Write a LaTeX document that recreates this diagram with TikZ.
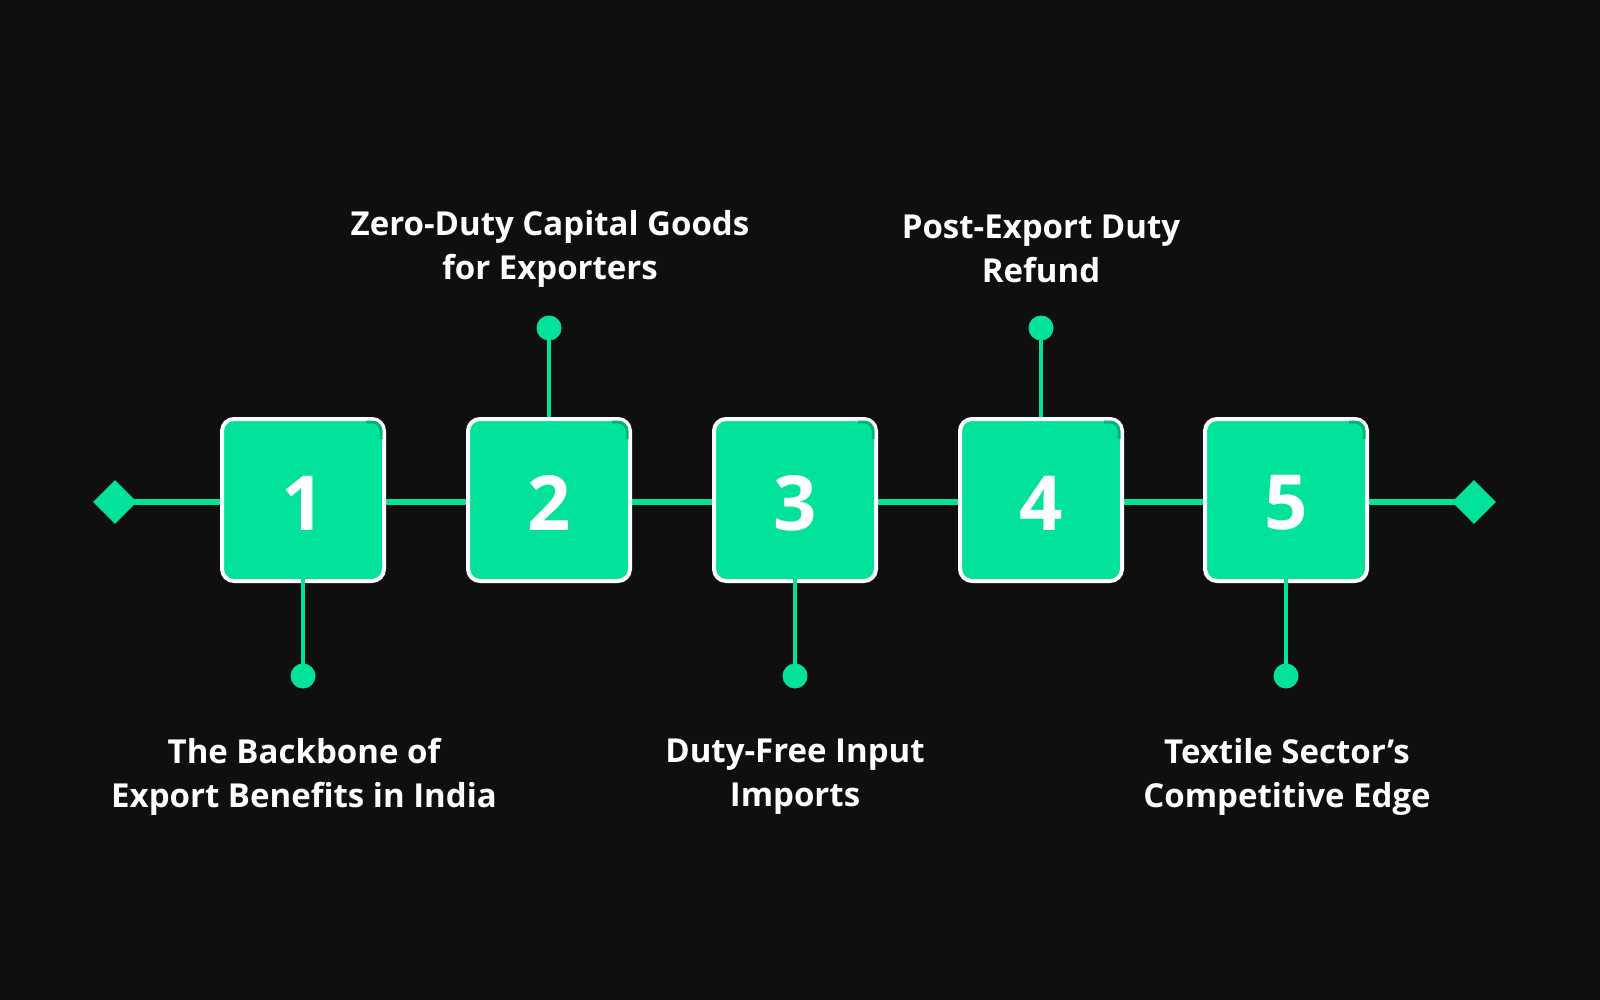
\documentclass[tikz,border=0pt]{standalone}
\usepackage{fontspec}
\setmainfont{Open Sans}
\usetikzlibrary{shapes.geometric}
\definecolor{bg}{HTML}{0F0F0F}
\definecolor{grn}{HTML}{02E29B}
\definecolor{dgrn}{HTML}{01B47B}
\begin{document}
\begin{tikzpicture}[x=1pt,y=-1pt,
  box/.style={draw=white,line width=4pt,fill=grn,rounded corners=12pt,minimum width=162pt,minimum height=162pt,inner sep=0pt},
  gline/.style={draw=grn,line width=6pt},
  dot/.style={circle,fill=grn,minimum size=25pt,inner sep=0pt},
  dia/.style={diamond,fill=grn,minimum size=44pt,inner sep=0pt},
  num/.style={text=white,font=\fontsize{76}{76}\selectfont\bfseries},
  lbl/.style={text=white,align=center,font=\fontsize{33}{44}\selectfont\bfseries}]
\fill[bg] (0,0) rectangle (1600,1000);
\useasboundingbox (0,0) rectangle (1600,1000);
\node[dia] (dl) at (115,502) {};
\node[dia] (dr) at (1474,502) {};
\draw[gline] (dl.center) -- (dr.center);
\foreach \i/\x in {1/303,2/549,3/795,4/1041,5/1286}{
  \node[box] (b\i) at (\x,500) {};
  \draw[dgrn,line width=3pt,rounded corners=9pt] ([xshift=-20pt,yshift=-5pt]b\i.north east) -- ([xshift=-5pt,yshift=-5pt]b\i.north east) -- ([xshift=-5pt,yshift=-22pt]b\i.north east);
  \node[num] (n\i) at (\x,503) {\i};
}
\node[dot] (t2) at (549,328) {};
\node[dot] (t4) at (1041,328) {};
\draw[gline,line width=4pt] (t2.center) -- (b2.north);
\draw[gline,line width=4pt] (t4.center) -- (b4.north);
\node[dot] (d1) at (303,676) {};
\node[dot] (d3) at (795,676) {};
\node[dot] (d5) at (1286,676) {};
\foreach \i in {1,3,5}{\draw[gline,line width=4pt] ([yshift=8pt]b\i.south) -- (d\i.center);}
\node[lbl] (l2) at (550,249) {Zero-Duty Capital Goods\\for Exporters};
\node[lbl] (l4) at (1041,249) {Post-Export Duty\\Refund};
\node[lbl] (l1) at (304,777) {The Backbone of\\Export Benefits in India};
\node[lbl] (l3) at (795,777) {Duty-Free Input\\Imports};
\node[lbl] (l5) at (1287,777) {Textile Sector’s\\Competitive Edge};
\end{tikzpicture}
\end{document}
